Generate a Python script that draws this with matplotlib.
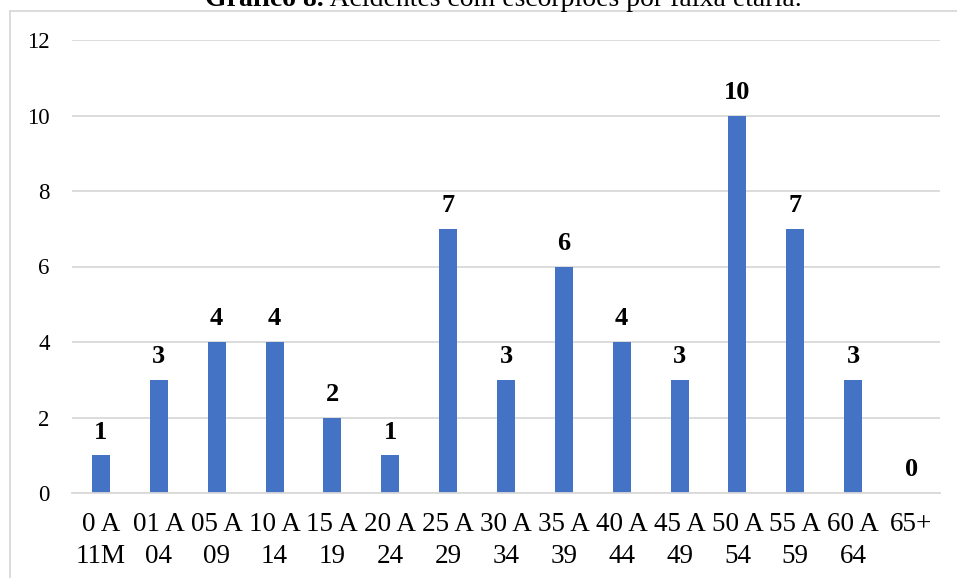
import matplotlib
matplotlib.use("Agg")
import matplotlib.pyplot as plt
from matplotlib.lines import Line2D

faixas = ["0 A\n11M", "01 A\n04", "05 A\n09", "10 A\n14", "15 A\n19", "20 A\n24",
          "25 A\n29", "30 A\n34", "35 A\n39", "40 A\n44", "45 A\n49", "50 A\n54",
          "55 A\n59", "60 A\n64", "65+"]
acidentes = [1, 3, 4, 4, 2, 1, 7, 3, 6, 4, 3, 10, 7, 3, 0]
y_ticks = [0, 2, 4, 6, 8, 10, 12]

plt.rcParams["font.family"] = ["Liberation Serif", "DejaVu Serif"]

W, H = 957, 578
fig = plt.figure(figsize=(W / 100, H / 100), dpi=100)
fig.patch.set_facecolor("white")

grid_col = "#d9d9d9"
bar_col = "#4472C4"

ax = fig.add_axes([72 / W, 1 - 493 / H, (940 - 72) / W, (493 - 40) / H])
x = list(range(len(faixas)))
ax.bar(x, acidentes, width=0.31, color=bar_col, zorder=3)
ax.set_xlim(-0.5, len(faixas) - 0.5)
ax.set_ylim(0, 12)
ax.set_yticks(y_ticks)
ax.set_xticks(x)
ax.set_xticklabels(faixas, fontsize=19.5, linespacing=1.32)
ax.tick_params(axis="y", length=0, pad=16, labelsize=16.5)
ax.tick_params(axis="x", length=0, pad=14)
ax.grid(axis="y", color=grid_col, linewidth=1.3, zorder=0)
for s in ["top", "right", "left"]:
    ax.spines[s].set_visible(False)
ax.spines["bottom"].set_color(grid_col)
ax.spines["bottom"].set_linewidth(1.3)
ax.spines["bottom"].set_zorder(4)

for xi, v in zip(x, acidentes):
    ax.annotate(str(v), (xi, v), xytext=(0, 12), textcoords="offset points",
                ha="center", va="baseline", fontsize=19, fontweight="bold")

# outer frame of the chart area
fig.add_artist(Line2D([9.5 / W, 1], [1 - 11 / H] * 2, color=grid_col, lw=1.3,
                      transform=fig.transFigure))
fig.add_artist(Line2D([9.5 / W] * 2, [0, 1 - 11 / H], color=grid_col, lw=1.3,
                      transform=fig.transFigure))

# caption above the frame: bold label followed by regular text
base_y = 1 - 6 / H
cap_bold = fig.text(0, base_y, "Gráfico 8.", fontsize=20, fontweight="bold",
                    va="baseline")
cap_rest = fig.text(0, base_y, " Acidentes com escorpiões por faixa etária.",
                    fontsize=20, va="baseline")

fig.canvas.draw()
r = fig.canvas.get_renderer()
wb = cap_bold.get_window_extent(r).width
wr = cap_rest.get_window_extent(r).width
x0 = 503 - (wb + wr) / 2
cap_bold.set_x(x0 / W)
cap_rest.set_x((x0 + wb) / W)

fig.savefig("out.png", dpi=100)
